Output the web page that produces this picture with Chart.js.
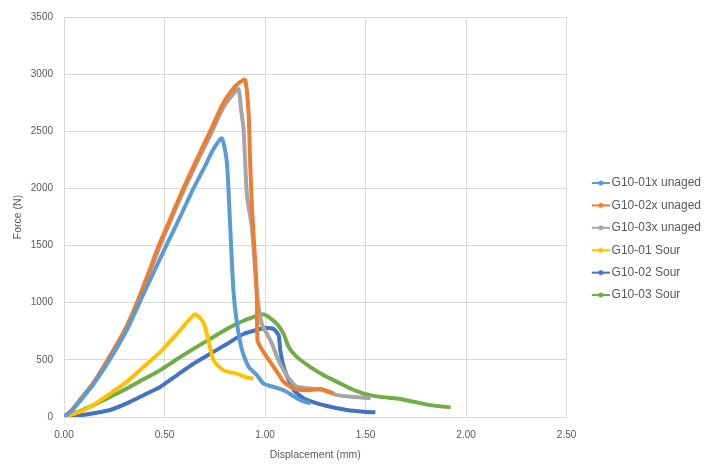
<!DOCTYPE html>
<html>
<head>
<meta charset="utf-8">
<script src="https://cdn.jsdelivr.net/npm/chart.js@4.4.1/dist/chart.umd.min.js"></script>
<style>
  html, body { margin: 0; padding: 0; background: #fff; }
  #wrap { width: 707px; height: 464px; }
</style>
</head>
<body>
<div id="wrap"><canvas id="forceChart" width="707" height="464"></canvas></div>
<script>
// series names
const seriesNames = ['G10-01x unaged', 'G10-02x unaged', 'G10-03x unaged', 'G10-01 Sour', 'G10-02 Sour', 'G10-03 Sour'];

// displacement (mm) / force (N)
const g01xX = [0, 0.04, 0.08, 0.146, 0.229, 0.312, 0.395, 0.45, 0.511, 0.58, 0.644, 0.70, 0.744, 0.785, 0.81, 0.827, 0.843, 0.861, 0.886, 0.919, 0.96, 0.993, 1.043, 1.093, 1.134, 1.176, 1.226];
const g01xY = [0, 58, 140, 285, 505, 760, 1074, 1280, 1508, 1760, 2000, 2190, 2346, 2439, 2231, 1652, 1102, 813, 582, 437, 365, 292, 263, 234, 191, 148, 119];

const g02xX = [0, 0.04, 0.08, 0.146, 0.229, 0.312, 0.365, 0.42, 0.475, 0.54, 0.60, 0.67, 0.735, 0.79, 0.84, 0.875, 0.901, 0.918, 0.926, 0.935, 0.951, 0.96, 0.963, 0.993, 1.027, 1.06, 1.093, 1.143, 1.209, 1.276, 1.342];
const g02xY = [0, 62, 152, 298, 535, 795, 1010, 1260, 1515, 1780, 2025, 2290, 2530, 2740, 2870, 2930, 2950, 2665, 2231, 1825, 1363, 1016, 668, 567, 480, 393, 307, 249, 234, 245, 205];

const g03xX = [0, 0.04, 0.08, 0.146, 0.229, 0.312, 0.368, 0.42, 0.478, 0.54, 0.60, 0.67, 0.737, 0.79, 0.83, 0.868, 0.88, 0.893, 0.91, 0.935, 0.96, 0.984, 1.01, 1.035, 1.06, 1.093, 1.126, 1.159, 1.226, 1.292, 1.359, 1.442, 1.525];
const g03xY = [0, 60, 148, 292, 524, 784, 1000, 1240, 1500, 1760, 2000, 2260, 2500, 2700, 2800, 2870, 2700, 2520, 1942, 1652, 1080, 813, 726, 639, 524, 408, 321, 263, 249, 234, 191, 176, 165];

const g01sX = [0, 0.08, 0.146, 0.229, 0.312, 0.395, 0.478, 0.561, 0.611, 0.652, 0.694, 0.719, 0.744, 0.794, 0.86, 0.91, 0.943];
const g01sY = [0, 46, 104, 205, 307, 437, 567, 726, 827, 900, 827, 668, 495, 408, 379, 344, 336];

const g02sX = [0, 0.07, 0.146, 0.229, 0.312, 0.395, 0.478, 0.561, 0.644, 0.727, 0.81, 0.893, 0.976, 1.01, 1.043, 1.068, 1.076, 1.093, 1.118, 1.143, 1.193, 1.259, 1.325, 1.408, 1.491, 1.549];
const g02sY = [0, 12, 32, 61, 119, 191, 263, 365, 466, 553, 639, 726, 770, 778, 770, 712, 582, 437, 321, 234, 162, 119, 90, 61, 46, 41];

const g03sX = [0, 0.07, 0.146, 0.229, 0.312, 0.395, 0.478, 0.561, 0.644, 0.727, 0.81, 0.893, 0.96, 0.985, 1.01, 1.06, 1.093, 1.118, 1.159, 1.226, 1.292, 1.359, 1.425, 1.491, 1.574, 1.657, 1.74, 1.823, 1.923];
const g03sY = [0, 45, 104, 175, 249, 330, 408, 505, 596, 683, 770, 842, 885, 900, 885, 813, 726, 610, 524, 437, 365, 307, 249, 205, 176, 162, 133, 104, 84];

const xTicks = [0, 0.5, 1, 1.5, 2, 2.5];
const yTicks = [0, 500, 1000, 1500, 2000, 2500, 3000, 3500];

const colors = ['#5B9BD5', '#ED7D31', '#A5A5A5', '#FFC000', '#4472C4', '#70AD47'];
const allX = [g01xX, g02xX, g03xX, g01sX, g02sX, g03sX];
const allY = [g01xY, g02xY, g03xY, g01sY, g02sY, g03sY];

const textColor = '#595959';
const gridColor = '#D9D9D9';

// line-with-dot legend marks; left part of the image is left blank
// so the mark sits next to the text like in the Excel legend
function legendMark(color) {
    const c = document.createElement('canvas');
    c.width = 37;
    c.height = 8;
    const g = c.getContext('2d');
    g.strokeStyle = color;
    g.lineWidth = 2;
    g.beginPath();
    g.moveTo(19, 4);
    g.lineTo(37, 4);
    g.stroke();
    g.fillStyle = color;
    g.beginPath();
    g.arc(28, 4, 2.5, 0, Math.PI * 2);
    g.fill();
    return c;
}
const legendMarks = colors.map(legendMark);

Chart.defaults.font.family = "'Liberation Sans', Arial, sans-serif";
Chart.defaults.color = textColor;

const datasets = seriesNames.map((name, i) => ({
    label: name,
    data: allX[i].map((x, j) => ({ x: x, y: allY[i][j] })),
    borderColor: colors[i],
    backgroundColor: colors[i],
    borderWidth: 4,
    pointRadius: 0,
    showLine: true,
    tension: 0.2
}));

const ctx = document.getElementById('forceChart').getContext('2d');
const chart = new Chart(ctx, {
    type: 'scatter',
    data: { datasets: datasets },
    options: {
        responsive: false,
        animation: false,
        devicePixelRatio: 1,
        // legend box keeps 10px of slack after the text, let it run past the edge
        layout: { padding: { top: 13, left: 0, right: -4, bottom: 0 } },
        plugins: {
            tooltip: { enabled: false },
            legend: {
                position: 'right',
                align: 'start',
                title: {
                    display: true,
                    text: ' ',
                    font: { size: 10, lineHeight: 1.2 },
                    padding: { top: 141.6, bottom: 0 }
                },
                labels: {
                    usePointStyle: true,
                    pointStyleWidth: 28.6,
                    padding: 10.4,
                    color: textColor,
                    font: { size: 12 },
                    generateLabels(chart) {
                        const items = Chart.defaults.plugins.legend.labels.generateLabels(chart);
                        items.forEach((it, i) => { it.pointStyle = legendMarks[i]; });
                        return items;
                    }
                }
            }
        },
        scales: {
            x: {
                type: 'linear',
                min: 0,
                max: 2.5,
                afterBuildTicks(s) { s.ticks = xTicks.map(v => ({ value: v })); },
                ticks: {
                    padding: 12,
                    font: { size: 10 },
                    color: textColor,
                    callback: v => Number(v).toFixed(2)
                },
                grid: { color: gridColor, lineWidth: 1, drawTicks: false },
                border: { color: gridColor },
                title: {
                    display: true,
                    text: 'Displacement (mm)',
                    font: { size: 10.5 },
                    color: textColor,
                    padding: { top: 0, bottom: 3 }
                },
                afterFit(s) { s.height = 47; }
            },
            y: {
                type: 'linear',
                position: 'left',
                min: 0,
                max: 3500,
                afterBuildTicks(s) { s.ticks = yTicks.map(v => ({ value: v })); },
                ticks: {
                    padding: 11,
                    font: { size: 10 },
                    color: textColor,
                    callback: v => String(v)
                },
                grid: { color: gridColor, lineWidth: 1, drawTicks: false },
                border: { color: gridColor },
                title: {
                    display: true,
                    text: 'Force (N)',
                    font: { size: 10.5 },
                    color: textColor,
                    padding: { top: 12, bottom: 0 }
                },
                afterFit(s) { s.width = 64; }
            }
        }
    }
});
</script>
</body>
</html>
